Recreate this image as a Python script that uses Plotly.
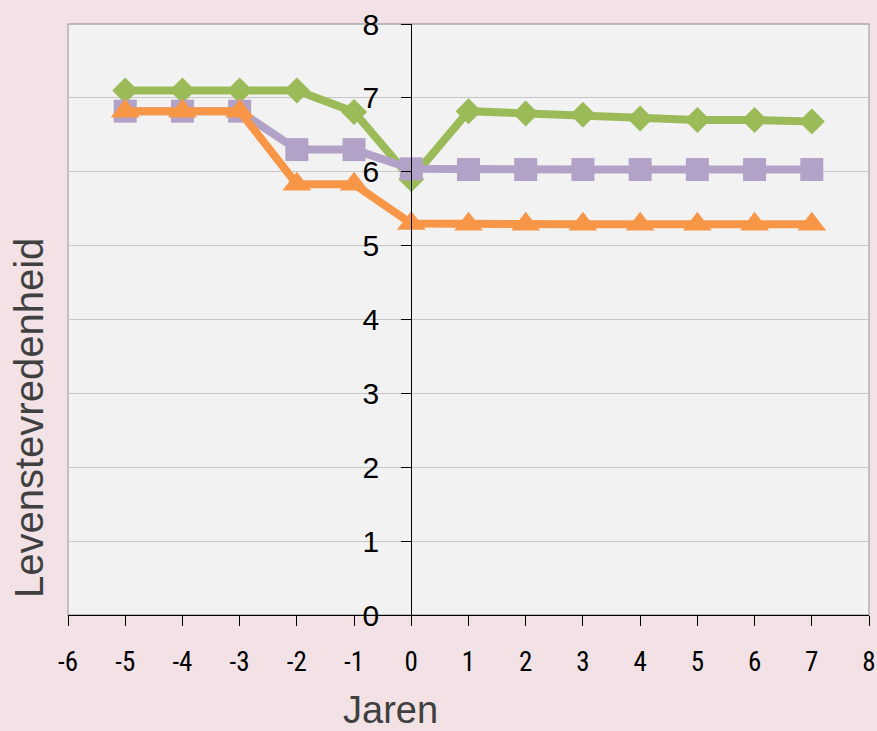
import plotly.graph_objects as go

years = [-5, -4, -3, -2, -1, 0, 1, 2, 3, 4, 5, 6, 7]
green_vals = [7.10, 7.10, 7.10, 7.10, 6.81, 5.90, 6.82, 6.79, 6.77, 6.72, 6.70, 6.70, 6.68]
purple_vals = [6.82, 6.82, 6.82, 6.30, 6.30, 6.04, 6.03, 6.03, 6.03, 6.03, 6.03, 6.03, 6.03]
orange_vals = [6.82, 6.82, 6.82, 5.83, 5.83, 5.30, 5.29, 5.29, 5.29, 5.29, 5.29, 5.29, 5.29]

x_ticks = list(range(-6, 9))
y_ticks = list(range(0, 9))

series = [
    ("green", green_vals, "#9BBB59", "diamond", 20),
    ("purple", purple_vals, "#B2A2C7", "square", 23),
    ("orange", orange_vals, "#F79646", "triangle-up", 25),
]

fig = go.Figure()
for name, vals, color, sym, size in series:
    fig.add_trace(go.Scatter(
        x=years, y=vals, mode="lines+markers", name=name,
        line=dict(color=color, width=8),
        marker=dict(symbol=sym, size=size, color=color, line=dict(width=0)),
        showlegend=False,
    ))

L, R, T, B = 68, 8, 24, 116
W, H = 877, 731
pw, ph = W - L - R, H - T - B

fig.update_layout(
    width=W, height=H,
    margin=dict(l=L, r=R, t=T, b=B, pad=0, autoexpand=False),
    paper_bgcolor="#F2E2E6",
    plot_bgcolor="#F2F2F2",
    xaxis=dict(
        range=[-6, 8], tickvals=x_ticks, ticktext=[str(v) for v in x_ticks],
        automargin=False, ticklabeloverflow="allow",
        showgrid=False, zeroline=False,
        showline=True, linecolor="#000000", linewidth=1.3,
        ticks="outside", ticklen=10, tickcolor="#000000", tickwidth=1.3,
        tickfont=dict(family="Liberation Sans Narrow, Arial Narrow, Roboto Condensed, Liberation Sans", size=27, color="#000000"),
        ticklabelstandoff=12,
    ),
    yaxis=dict(
        range=[0, 8], tickvals=y_ticks, ticktext=[str(v) for v in y_ticks],
        anchor="free", position=6 / 14, automargin=False,
        showgrid=True, gridcolor="#C6C6C6", gridwidth=1.3,
        zeroline=False,
        showline=True, linecolor="#000000", linewidth=1.3,
        ticks="outside", ticklen=10, tickcolor="#000000", tickwidth=1.3,
        tickfont=dict(family="Liberation Sans, Arial", size=30, color="#000000"),
        ticklabelstandoff=16,
    ),
    shapes=[dict(type="rect", xref="paper", yref="paper", x0=0, x1=1, y0=0, y1=1,
                 line=dict(color="#A8A8A8", width=1.3), layer="below")],
    annotations=[
        dict(text="Jaren", xref="paper", yref="paper",
             x=(390 - L) / pw, y=-(710 - (H - B)) / ph,
             xanchor="center", yanchor="middle", showarrow=False,
             font=dict(family="Liberation Sans, Arial", size=38, color="#404040")),
        dict(text="Levenstevredenheid", xref="paper", yref="paper",
             x=(29 - L) / pw, y=((H - B) - 418) / ph,
             xanchor="center", yanchor="middle", showarrow=False, textangle=-90,
             font=dict(family="Liberation Sans, Arial", size=40, color="#404040")),
    ],
)

fig.write_html(
    "out.html",
    config={"displayModeBar": False},
    post_script="document.body.style.margin='0';document.body.style.padding='0';document.body.style.background='#F2E2E6';document.body.style.overflow='hidden';",
)
